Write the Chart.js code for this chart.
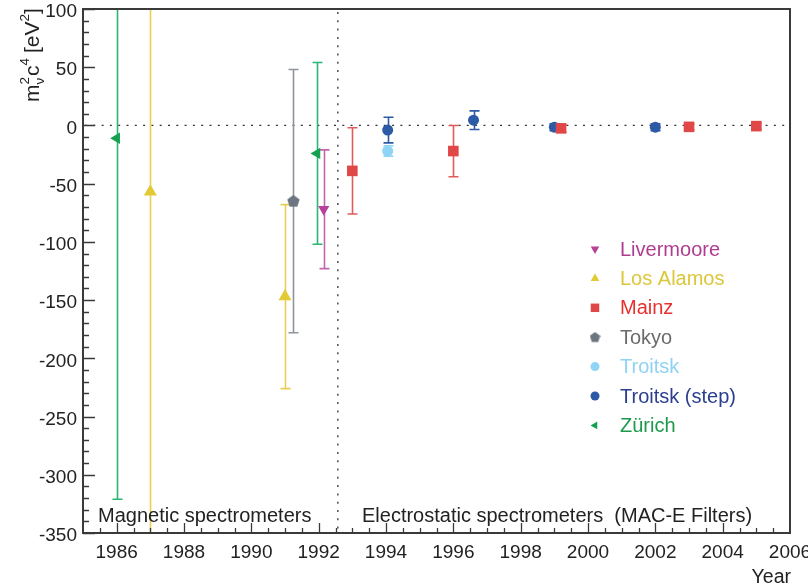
<!DOCTYPE html>
<html>
<head>
<meta charset="utf-8">
<script src="https://cdn.jsdelivr.net/npm/chart.js@4.4.1/dist/chart.umd.min.js"></script>
<style>
html, body { margin: 0; padding: 0; background: #fff; }
</style>
</head>
<body>
<canvas id="chart" width="808" height="586"></canvas>
<script>
// neutrino mass squared results by experiment: year, value [eV^2], error [eV^2]
const livermoreYears   = [1992.15];
const livermoreValues  = [-72];
const livermoreErrors  = [51];

const losAlamosYears   = [1987, 1991];
const losAlamosValues  = [-57, -147];
const losAlamosErrors  = [420, 79];

const mainzYears       = [1993, 1996, 1999.2, 2003, 2005];
const mainzValues      = [-39, -22, -2.5, -1.2, -0.6];
const mainzErrors      = [37, 22, 3, 2.5, 2.5];

const tokyoYears       = [1991.25];
const tokyoValues      = [-65];
const tokyoErrors      = [113];

const troitskYears     = [1994.05];
const troitskValues    = [-22];
const troitskErrors    = [4.5];

const troitskStepYears  = [1994.05, 1996.6, 1999, 2002];
const troitskStepValues = [-4, 4.5, -1.5, -1.5];
const troitskStepErrors = [11, 8, 3, 3];

const zurichYears      = [1986, 1991.95];
const zurichValues     = [-11, -24];
const zurichErrors     = [310, 78];

const yearTicks  = [1986, 1988, 1990, 1992, 1994, 1996, 1998, 2000, 2002, 2004, 2006];
const valueTicks = [-350, -300, -250, -200, -150, -100, -50, 0, 50, 100];
const separatorYear = 1992.57;

const FONT = '"Liberation Sans", Arial, Helvetica, sans-serif';

// pentagon marker for Tokyo
function pentagon(size, color) {
    const c = document.createElement('canvas');
    c.width = size; c.height = size;
    const g = c.getContext('2d');
    const r = size / 2;
    g.fillStyle = color;
    g.beginPath();
    for (let i = 0; i < 5; i++) {
        const a = -Math.PI / 2 + i * 2 * Math.PI / 5;
        const px = r + r * Math.cos(a), py = r + 0.3 + r * Math.sin(a);
        i ? g.lineTo(px, py) : g.moveTo(px, py);
    }
    g.closePath();
    g.fill();
    return c;
}

function series(label, years, values, errors, color, barColor, textColor, style, radius, rotation, legendRadius) {
    return {
        label: label,
        data: years.map((x, i) => ({x: x, y: values[i]})),
        errors: errors,
        barColor: barColor,
        textColor: textColor,
        legendRadius: legendRadius,
        backgroundColor: color,
        borderColor: color,
        borderWidth: 0,
        pointStyle: style,
        pointRadius: radius,
        pointHoverRadius: radius,
        rotation: rotation
    };
}

const datasets = [
    series('Livermoore', livermoreYears, livermoreValues, livermoreErrors, '#b8429a', '#c466ac', '#b03c90', 'triangle', 6.5, 180, 5),
    series('Los Alamos', losAlamosYears, losAlamosValues, losAlamosErrors, '#e3c934', '#e6cf52', '#dcc63a', 'triangle', 7.5, 0, 5),
    series('Mainz', mainzYears, mainzValues, mainzErrors, '#e04848', '#e35a5a', '#e8302f', 'rect', 7.5, 0, 6),
    series('Tokyo', tokyoYears, tokyoValues, tokyoErrors, '#6d7680', '#8d949c', '#6b6b6b', pentagon(13, '#6d7680'), 6.5, 0, 5),
    series('Troitsk', troitskYears, troitskValues, troitskErrors, '#8dd4f5', '#8dd4f5', '#8fd3f3', 'circle', 5.5, 0, 4.5),
    series('Troitsk (step)', troitskStepYears, troitskStepValues, troitskStepErrors, '#2d5aa6', '#2d5aa6', '#2b3e8f', 'circle', 5.5, 0, 4.5),
    series('Zürich', zurichYears, zurichValues, zurichErrors, '#13a150', '#2ab673', '#1e9a4c', 'triangle', 6.5, 270, 4.5)
];

// error bars, zero line and the magnetic / electrostatic separator
const errorBars = {
    id: 'errorBars',
    beforeDatasetsDraw(chart) {
        const {ctx, chartArea: a, scales: {x, y}} = chart;
        ctx.save();
        ctx.beginPath();
        ctx.rect(a.left, a.top, a.right - a.left, a.bottom - a.top);
        ctx.clip();

        ctx.strokeStyle = '#333';
        ctx.lineWidth = 1.3;
        ctx.setLineDash([2, 6.3]);
        ctx.beginPath();
        ctx.moveTo(a.left + 2, y.getPixelForValue(0));
        ctx.lineTo(a.right, y.getPixelForValue(0));
        const sx = x.getPixelForValue(separatorYear);
        ctx.moveTo(sx, a.top + 3);
        ctx.lineTo(sx, a.bottom);
        ctx.stroke();
        ctx.setLineDash([]);

        chart.data.datasets.forEach(ds => {
            ctx.strokeStyle = ds.barColor;
            ctx.lineWidth = 1.6;
            ds.data.forEach((p, i) => {
                const px = Math.round(x.getPixelForValue(p.x)) + 0.5;
                const top = y.getPixelForValue(p.y + ds.errors[i]);
                const bot = y.getPixelForValue(p.y - ds.errors[i]);
                ctx.beginPath();
                ctx.moveTo(px, top);
                ctx.lineTo(px, bot);
                ctx.moveTo(px - 5, top); ctx.lineTo(px + 5, top);
                ctx.moveTo(px - 5, bot); ctx.lineTo(px + 5, bot);
                ctx.stroke();
            });
        });
        ctx.restore();
    }
};

// frame, inward tick marks, annotations, axis titles and legend
const decorations = {
    id: 'decorations',
    afterDatasetsDraw(chart) {
        const {ctx, chartArea: a, scales: {x, y}} = chart;
        ctx.save();
        ctx.strokeStyle = '#3a3a3a';
        ctx.lineWidth = 2;
        ctx.strokeRect(a.left, a.top, a.right - a.left, a.bottom - a.top);

        ctx.lineWidth = 1.3;
        ctx.beginPath();
        for (let v = -350; v <= 100; v += 10) {
            const py = Math.round(y.getPixelForValue(v)) + 0.5;
            const len = v % 50 === 0 ? 12 : 6;
            ctx.moveTo(a.left, py);
            ctx.lineTo(a.left + len, py);
        }
        for (let v = 1985.5; v < 2006; v += 0.5) {
            const px = Math.round(x.getPixelForValue(v)) + 0.5;
            const len = v % 2 === 0 ? 10 : 5;
            ctx.moveTo(px, a.bottom);
            ctx.lineTo(px, a.bottom - len);
        }
        ctx.stroke();

        ctx.fillStyle = '#222';
        ctx.font = '20px ' + FONT;
        ctx.textBaseline = 'alphabetic';
        ctx.textAlign = 'left';
        ctx.fillText('Magnetic spectrometers', 98, 522);
        ctx.fillText('Electrostatic spectrometers  (MAC-E Filters)', 362, 522);

        ctx.font = '19.5px ' + FONT;
        ctx.textAlign = 'right';
        ctx.fillText('Year', a.right + 1, 583);

        // y title: m_nu^2 c^4 [eV^2], rotated
        ctx.save();
        ctx.translate(39, 102);
        ctx.rotate(-Math.PI / 2);
        ctx.textAlign = 'left';
        let cx = 0;
        const big = '21px ' + FONT, small = '13.5px ' + FONT;
        const put = (t, f, dy) => { ctx.font = f; ctx.fillText(t, cx, dy); return ctx.measureText(t).width; };
        cx += put('m', big, 0);
        const nu = put('\u03bd', small, 5);
        const two = put('2', small, -10);
        cx += Math.max(nu, two) + 1;
        cx += put('c', big, 0);
        cx += put('4', small, -10) + 5;
        cx += put('[eV', big, 0);
        cx += put('2', small, -10);
        put(']', big, 0);
        ctx.restore();

        // legend
        const lx = 595, ly0 = 249, step = 29.4;
        chart.data.datasets.forEach((ds, i) => {
            const yy = ly0 + i * step;
            ctx.fillStyle = ds.backgroundColor;
            ctx.strokeStyle = ds.backgroundColor;
            const style = ds.pointStyle instanceof HTMLCanvasElement ? pentagon(11, ds.backgroundColor) : ds.pointStyle;
            Chart.helpers.drawPoint(ctx, {pointStyle: style, rotation: ds.rotation, radius: ds.legendRadius, borderWidth: 0}, lx, yy);
            ctx.fillStyle = ds.textColor;
            ctx.font = '20px ' + FONT;
            ctx.textAlign = 'left';
            ctx.textBaseline = 'middle';
            ctx.fillText(ds.label, 620, yy + 1);
        });
        ctx.restore();
    }
};

new Chart(document.getElementById('chart'), {
    type: 'scatter',
    data: {datasets: datasets},
    options: {
        responsive: false,
        animation: false,
        events: [],
        layout: {padding: {top: 9, right: 18, left: 0, bottom: 0}},
        plugins: {legend: {display: false}, tooltip: {enabled: false}},
        scales: {
            x: {
                type: 'linear',
                min: 1985,
                max: 2006,
                afterBuildTicks: s => { s.ticks = yearTicks.map(v => ({value: v})); },
                afterFit: s => { s.height = 53; s.paddingLeft = 0; s.paddingRight = 0; },
                grid: {display: false, drawTicks: false},
                border: {display: false},
                ticks: {
                    autoSkip: false,
                    maxRotation: 0,
                    padding: 8,
                    color: '#222',
                    font: {family: FONT, size: 19},
                    callback: v => String(v)
                }
            },
            y: {
                type: 'linear',
                min: -350,
                max: 100,
                afterBuildTicks: s => { s.ticks = valueTicks.map(v => ({value: v})); },
                afterFit: s => { s.width = 83; s.paddingTop = 0; s.paddingBottom = 0; },
                grid: {display: false, drawTicks: false},
                border: {display: false},
                ticks: {
                    padding: 6,
                    labelOffset: 3,
                    color: '#222',
                    font: {family: FONT, size: 19},
                    callback: v => String(v)
                }
            }
        }
    },
    plugins: [errorBars, decorations]
});
</script>
</body>
</html>
